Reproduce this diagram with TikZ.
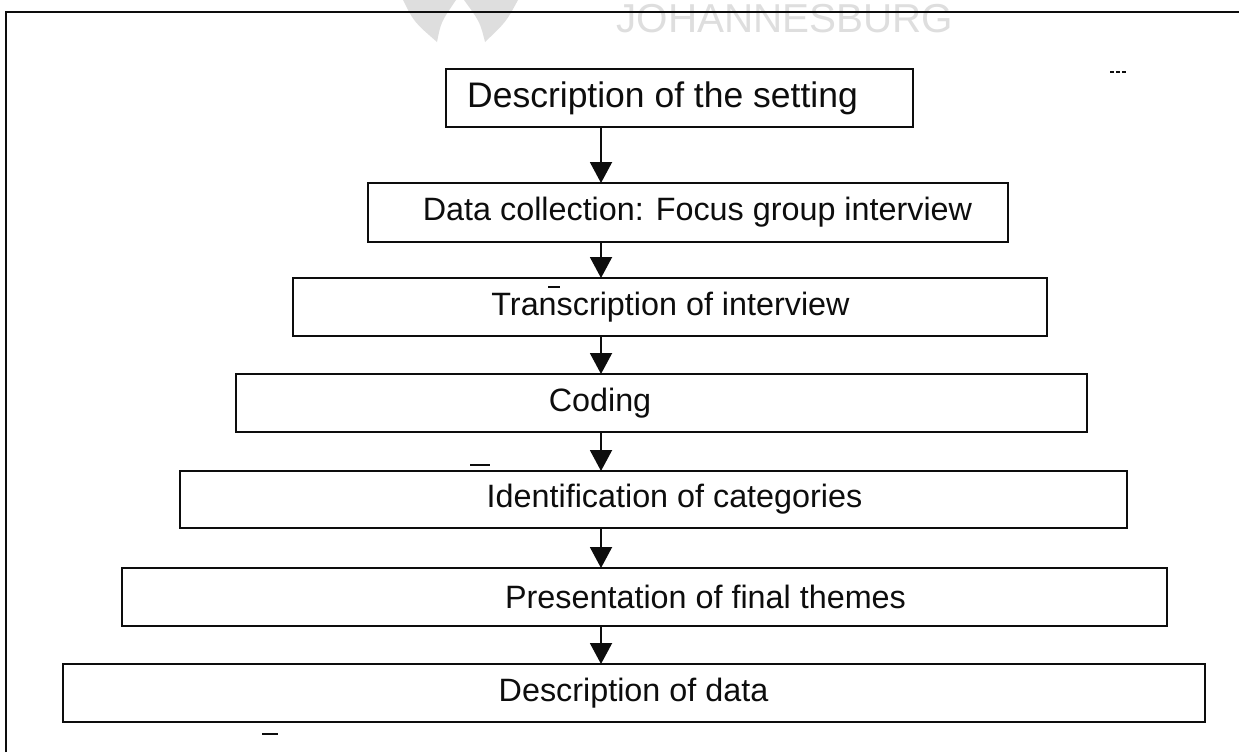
\documentclass[tikz,border=0pt]{standalone}
\usepackage{fontspec}
\setmainfont{Liberation Sans}
\usetikzlibrary{arrows.meta, positioning}
\definecolor{mainBlack}{gray}{0.05}
\definecolor{markGray}{gray}{0.87}

\tikzset{
  stepbox/.style={draw=mainBlack, line width=1.3pt, inner sep=0pt, outer sep=0pt},
  steptext/.style={font=\fontsize{18.4}{22}\selectfont, text=mainBlack, inner sep=0pt},
  flow/.style={-{Triangle[width=0.44cm, length=0.42cm]}, line width=1.1pt, mainBlack},
  speck/.style={line width=0.8pt, mainBlack},
}

\begin{document}
\begin{tikzpicture}[x=0.02cm, y=-0.02cm]
    \useasboundingbox (0,0) rectangle (1239,752);

    % faint watermark of the scan
    \fill[markGray] (403,0) .. controls (414,22) .. (437,42) .. controls (441,22) .. (456,0) -- cycle;
    \fill[markGray] (464,0) .. controls (480,22) .. (485,42) .. controls (506,22) .. (518,0) -- cycle;
    \node[font=\fontsize{23}{23}\selectfont, text=markGray, anchor=base, inner sep=0pt] (wm) at (785,32) {JOHANNESBURG};

    % frame
    \draw[line width=1.6pt, mainBlack] (6,752) -- (6,12) -- (1239,12);

    % steps
    \node[stepbox, minimum width=9.34cm,  minimum height=1.16cm] (b1) at (679.5,98) {};
    \node[stepbox, minimum width=12.8cm,  minimum height=1.18cm] (b2) at (688,212.5) {};
    \node[stepbox, minimum width=15.08cm, minimum height=1.16cm] (b3) at (670,307) {};
    \node[stepbox, minimum width=17.02cm, minimum height=1.16cm] (b4) at (661.5,403) {};
    \node[stepbox, minimum width=18.94cm, minimum height=1.14cm] (b5) at (653.5,499.5) {};
    \node[stepbox, minimum width=20.9cm,  minimum height=1.16cm] (b6) at (644.5,597) {};
    \node[stepbox, minimum width=22.84cm, minimum height=1.16cm] (b7) at (634,693) {};

    \node[steptext, font=\fontsize{20.2}{24}\selectfont] (t1) at (662.5,98) {Description of the setting};
    \node[steptext] (t2) at (697.5,212.5) {Data collection: Focus group interview};
    \node[steptext] (t3) at (670.5,307) {Transcription of interview};
    \node[steptext] (t4) at (600,403)   {Coding};
    \node[steptext] (t5) at (674.5,499.5) {Identification of categories};
    \node[steptext] (t6) at (705.5,597) {Presentation of final themes};
    \node[steptext] (t7) at (633.5,693) {Description of data};

    % arrows down the middle
    \coordinate (ax) at (601,0);
    \foreach \i/\j in {1/2, 2/3, 3/4, 4/5, 5/6, 6/7}
        \draw[flow] (b\i.south -| ax) -- (b\j.north -| ax);

    % specks
    \draw[speck] (548,287) -- (560,287);
    \draw[speck] (470,465) -- (490,465);
    \draw[speck] (262,734) -- (278,734);
    \draw[speck, dash pattern=on 2pt off 1.5pt] (1110,72) -- (1126,72);
\end{tikzpicture}
\end{document}
